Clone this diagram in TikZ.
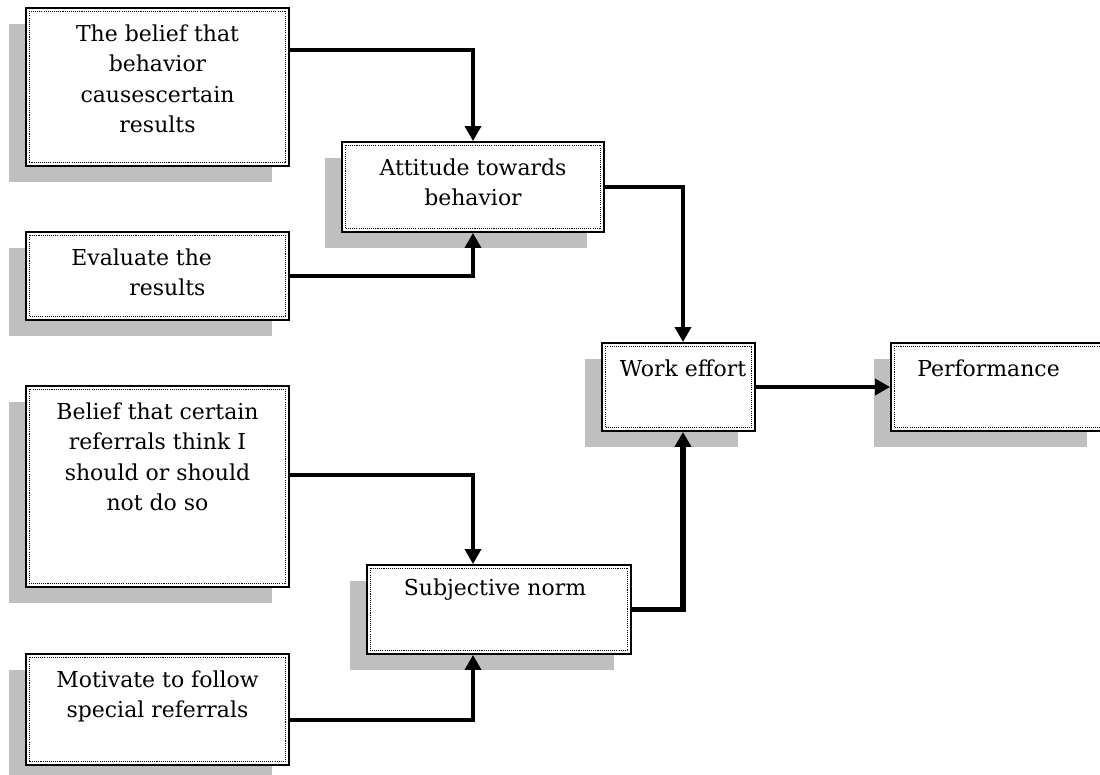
\documentclass[tikz,border=0pt]{standalone}
\usepackage{fontspec}
\setmainfont{DejaVu Serif}
\usepackage{xcolor}
\usepackage{tikz}
\usetikzlibrary{arrows.meta,shadows}
\newcommand{\shadowdx}{-0.34cm}
\newcommand{\shadowdy}{-0.32cm}
\newcommand{\inset}{1.8pt}
\definecolor{shadowgray}{RGB}{191,191,191}
\tikzset{
  flowbox/.style  = {draw=black, line width=1.1pt, fill=white, inner sep=0pt,
                     drop shadow={shadow xshift=\shadowdx, shadow yshift=\shadowdy,
                                  fill=shadowgray, opacity=1},
                     path picture={\draw[dotline]
                       ([shift={(\inset,-\inset)}]path picture bounding box.north west) rectangle
                       ([shift={(-\inset,\inset)}]path picture bounding box.south east);}},
  dotline/.style  = {line width=0.7pt, dash pattern=on 0.6pt off 0.6pt},
  boxtext/.style  = {font=\fontsize{12.5}{17.4}\selectfont, align=center, inner sep=0pt,
                     anchor=north, yshift=-0.34cm},
  conn/.style     = {-{Triangle[length=0.3cm,width=0.32cm]}, line width=2pt},
  connthick/.style= {conn, line width=3pt}
}

\begin{document}
\begin{tikzpicture}[x=0.02cm, y=-0.02cm]
  % one unit = one pixel of the 1100 x 775 frame, y pointing down
  \useasboundingbox (0,0) rectangle (1100,775);
  % left column: beliefs and evaluations
  \node[flowbox, minimum width=5.26cm, minimum height=3.16cm,
        label={[boxtext]north:The belief that\\behavior\\causescertain\\results}]
        (cause) at (157.5,87) {};
  \node[flowbox, minimum width=5.26cm, minimum height=1.76cm,
        label={[boxtext, align=left, anchor=north west, xshift=0.92cm]north west:Evaluate the\\\hspace*{1.16cm}results}]
        (evaluate) at (157.5,276) {};
  \node[flowbox, minimum width=5.26cm, minimum height=4.02cm,
        label={[boxtext]north:Belief that certain\\referrals think I\\should or should\\not do so}]
        (referral) at (157.5,486.5) {};
  \node[flowbox, minimum width=5.26cm, minimum height=2.22cm,
        label={[boxtext]north:Motivate to follow\\special referrals}]
        (motivate) at (157.5,709.5) {};
  % middle column
  \node[flowbox, minimum width=5.24cm, minimum height=1.80cm,
        label={[boxtext]north:Attitude towards\\behavior}]
        (attitude) at (473,187) {};
  \node[flowbox, minimum width=5.28cm, minimum height=1.78cm,
        label={[boxtext, xshift=-0.08cm, yshift=0.06cm]north:Subjective norm}]
        (norm) at (499,609.5) {};
  % right column
  \node[flowbox, minimum width=3.06cm, minimum height=1.76cm,
        label={[boxtext, xshift=0.09cm]north:Work effort}]
        (work) at (678.5,387) {};
  \node[flowbox, minimum width=4.26cm, minimum height=1.76cm,
        label={[boxtext, xshift=-0.18cm]north:Performance}]
        (perf) at (997.5,387) {};
  % connectors
  \draw[conn] ([yshift=0.74cm]cause.east) -| (attitude.north);
  \draw[conn] (evaluate.east) -| (attitude.south);
  \draw[conn] (attitude.east) -| ([xshift=0.09cm]work.north);
  \draw[conn] ([yshift=0.23cm]referral.east) -| ([xshift=-0.52cm]norm.north);
  \draw[conn] ([yshift=-0.21cm]motivate.east) -| ([xshift=-0.52cm]norm.south);
  \draw[connthick] (norm.east) -| ([xshift=0.09cm]work.south);
  \draw[conn] (work.east) -- (perf.west);
\end{tikzpicture}
\end{document}
